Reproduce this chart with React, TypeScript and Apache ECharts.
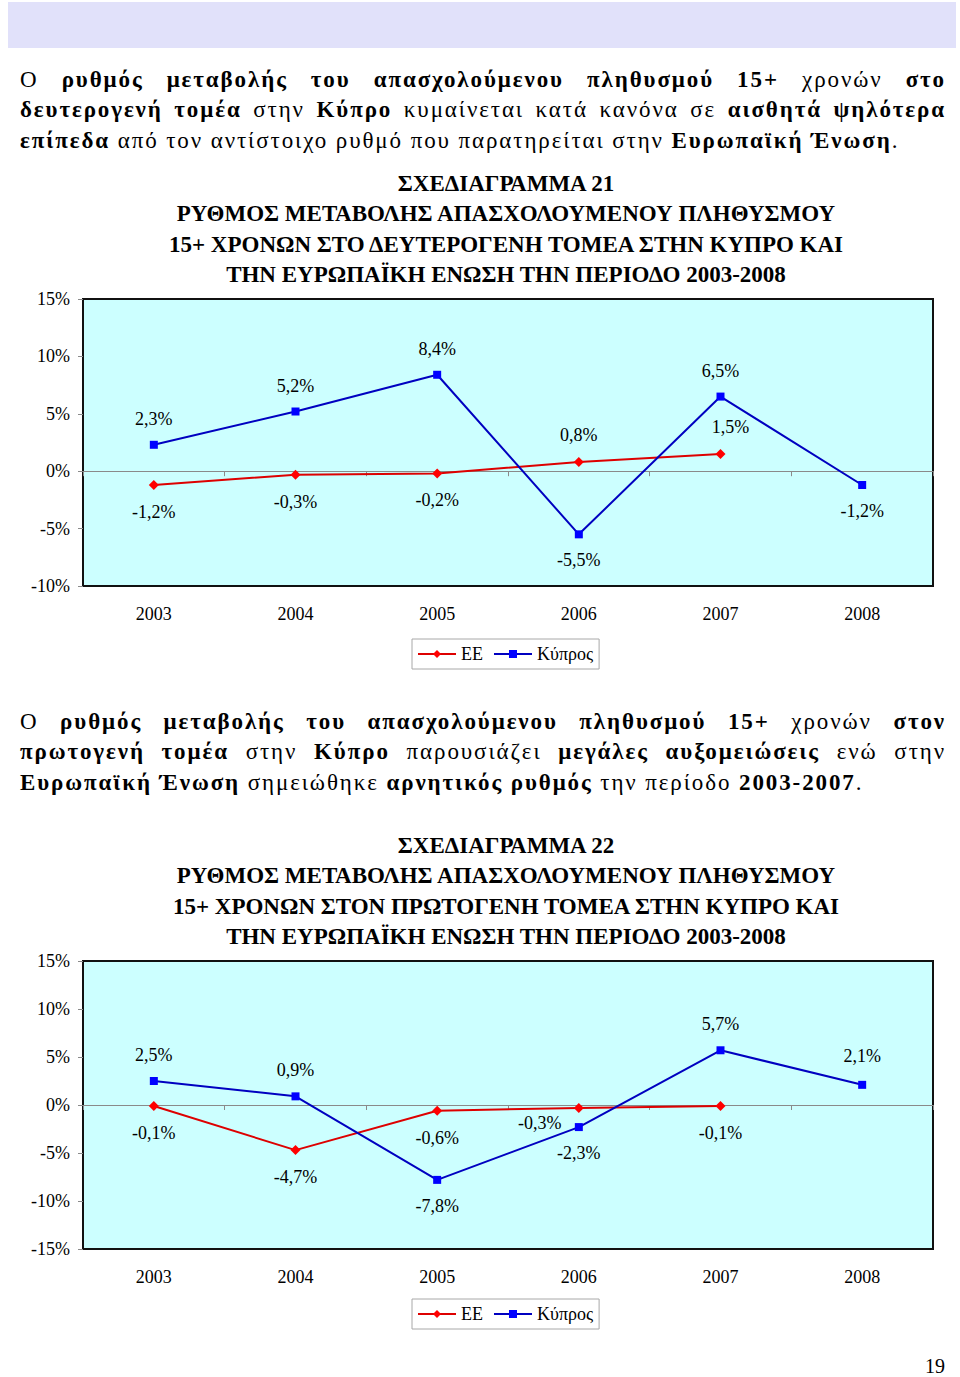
import React, { useEffect, useRef } from "react";
import * as echarts from "echarts";

// ---------- DATA ----------
const years = ["2003", "2004", "2005", "2006", "2007", "2008"];

// Chart 21 – secondary sector
const ee21 = [-1.2, -0.3, -0.2, 0.8, 1.5];
const cy21 = [2.3, 5.2, 8.4, -5.5, 6.5, -1.2];

// Chart 22 – primary sector
const ee22 = [-0.1, -4.7, -0.6, -0.3, -0.1];
const cy22 = [2.5, 0.9, -7.8, -2.3, 5.7, 2.1];

const seriesNames = ["EE", "Κύπρος"];

const title21 = [
  "ΣΧΕΔΙΑΓΡΑΜΜΑ 21",
  "ΡΥΘΜΟΣ ΜΕΤΑΒΟΛΗΣ ΑΠΑΣΧΟΛΟΥΜΕΝΟΥ ΠΛΗΘΥΣΜΟΥ",
  "15+ ΧΡΟΝΩΝ ΣΤΟ ΔΕΥΤΕΡΟΓΕΝΗ ΤΟΜΕΑ ΣΤΗΝ ΚΥΠΡΟ ΚΑΙ",
  "ΤΗΝ ΕΥΡΩΠΑΪΚΗ ΕΝΩΣΗ ΤΗΝ ΠΕΡΙΟΔΟ 2003-2008",
];
const title22 = [
  "ΣΧΕΔΙΑΓΡΑΜΜΑ 22",
  "ΡΥΘΜΟΣ ΜΕΤΑΒΟΛΗΣ ΑΠΑΣΧΟΛΟΥΜΕΝΟΥ ΠΛΗΘΥΣΜΟΥ",
  "15+ ΧΡΟΝΩΝ ΣΤΟΝ ΠΡΩΤΟΓΕΝΗ ΤΟΜΕΑ ΣΤΗΝ ΚΥΠΡΟ ΚΑΙ",
  "ΤΗΝ ΕΥΡΩΠΑΪΚΗ ΕΝΩΣΗ ΤΗΝ ΠΕΡΙΟΔΟ 2003-2008",
];

type Seg = [string, boolean];
const para1: Seg[][] = [
  [["Ο ", false], ["ρυθμός μεταβολής του απασχολούμενου πληθυσμού 15+", true], [" χρονών ", false], ["στο", true]],
  [["δευτερογενή τομέα", true], [" στην ", false], ["Κύπρο", true], [" κυμαίνεται κατά κανόνα σε ", false], ["αισθητά ψηλότερα", true]],
  [["επίπεδα", true], [" από τον αντίστοιχο ρυθμό που παρατηρείται στην ", false], ["Ευρωπαϊκή Ένωση", true], [".", false]],
];
const para2: Seg[][] = [
  [["Ο ", false], ["ρυθμός μεταβολής του απασχολούμενου πληθυσμού 15+", true], [" χρονών ", false], ["στον", true]],
  [["πρωτογενή τομέα", true], [" στην ", false], ["Κύπρο", true], [" παρουσιάζει ", false], ["μεγάλες αυξομειώσεις", true], [" ενώ στην", false]],
  [["Ευρωπαϊκή Ένωση", true], [" σημειώθηκε ", false], ["αρνητικός ρυθμός", true], [" την περίοδο ", false], ["2003-2007", true], [".", false]],
];

// ---------- STYLE (label placement per point) ----------
const eeLab21 = ["bottom", "bottom", "bottom", "top", "top"];
const eeOff21 = [[0, 0], [0, 0], [0, 0], [0, 0], [10, 0]];
const cyLab21 = ["top", "top", "top", "bottom", "top", "bottom"];
const eeLab22 = ["bottom", "bottom", "bottom", "bottom", "bottom"];
const eeDist22 = [13, 13, 13, 1, 13];
const eeOff22 = [[0, 0], [0, 0], [0, 0], [-39, 0], [0, 0]];
const cyLab22 = ["top", "top", "bottom", "bottom", "top", "top"];
const cyDist22 = [13, 13, 13, 13, 13, 16];

const FONT = "'Liberation Serif', 'Times New Roman', serif";
const RED_LINE = "#dd0000";
const RED_MARK = "#ff0000";
const BLUE_LINE = "#0000c0";
const BLUE_MARK = "#0000ff";

const fmt = (v: number) => v.toFixed(1).replace(".", ",") + "%";

function buildData(vals: number[], pos: string[], dist?: number[], off?: number[][]) {
  return vals.map((v, i) => ({
    value: v,
    label: {
      position: pos[i],
      distance: dist ? dist[i] : 13,
      offset: off ? off[i] : [0, 0],
    },
  }));
}

const Para: React.FC<{ lines: Seg[][]; top: number }> = ({ lines, top }) => (
  <div
    style={{
      position: "absolute",
      left: 20,
      top,
      width: 926,
      fontFamily: FONT,
      fontSize: 23,
      letterSpacing: "1.9px",
      lineHeight: "30.5px",
      color: "#000",
    }}
  >
    {lines.map((ln, i) => (
      <div
        key={i}
        style={{
          textAlign: i === lines.length - 1 ? "left" : "justify",
          textAlignLast: i === lines.length - 1 ? "left" : "justify",
          height: 30.5,
          whiteSpace: "nowrap",
        }}
      >
        {ln.map(([t, b], j) => (
          <span key={j} style={{ fontWeight: b ? "bold" : "normal" }}>
            {t}
          </span>
        ))}
      </div>
    ))}
  </div>
);

export default function App() {
  const ref = useRef<HTMLDivElement>(null);

  useEffect(() => {
    if (!ref.current) return;
    const chart = echarts.init(ref.current, undefined, { renderer: "svg" });

    const gridBase = {
      left: 83,
      width: 850,
      show: true,
      backgroundColor: "#ccffff",
      borderColor: "#111",
      borderWidth: 2,
      containLabel: false,
    };

    const zeroAxis = (gi: number) => ({
      type: "category",
      gridIndex: gi,
      data: years,
      position: "bottom",
      boundaryGap: true,
      axisLine: { show: true, onZero: true, lineStyle: { color: "#8a8a8a", width: 1 } },
      axisTick: { show: true, interval: 0, length: 5, lineStyle: { color: "#8a8a8a" } },
      axisLabel: { show: false },
      splitLine: { show: false },
    });
    const labelAxis = (gi: number) => ({
      type: "category",
      gridIndex: gi,
      data: years,
      position: "bottom",
      boundaryGap: true,
      axisLine: { show: false, onZero: false },
      axisTick: { show: false },
      axisLabel: { show: true, margin: 19, fontSize: 18, fontFamily: FONT, color: "#000" },
      splitLine: { show: false },
    });
    const yAx = (gi: number, min: number, max: number) => ({
      type: "value",
      gridIndex: gi,
      min,
      max,
      interval: 5,
      axisLine: { show: false },
      axisTick: { show: true, length: 5, lineStyle: { color: "#8a8a8a" } },
      splitLine: { show: false },
      axisLabel: {
        margin: 13,
        fontSize: 18,
        fontFamily: FONT,
        color: "#000",
        formatter: (v: number) => `${v}%`,
      },
    });

    const labelStyle = {
      show: true,
      fontSize: 18,
      fontFamily: FONT,
      color: "#000",
      formatter: (p: any) => fmt(p.value),
    };

    const eeSeries = (xi: number, yi: number, data: any[]) => ({
      name: seriesNames[0],
      type: "line",
      xAxisIndex: xi,
      yAxisIndex: yi,
      data,
      symbol: "diamond",
      symbolSize: 10,
      lineStyle: { color: RED_LINE, width: 2 },
      itemStyle: { color: RED_MARK },
      label: labelStyle,
    });
    const cySeries = (xi: number, yi: number, data: any[]) => ({
      name: seriesNames[1],
      type: "line",
      xAxisIndex: xi,
      yAxisIndex: yi,
      data,
      symbol: "rect",
      symbolSize: 8,
      lineStyle: { color: BLUE_LINE, width: 2 },
      itemStyle: { color: BLUE_MARK },
      label: labelStyle,
    });

    const legendBase = {
      data: seriesNames,
      orient: "horizontal",
      left: 412,
      borderColor: "#a8a8a8",
      borderWidth: 1,
      backgroundColor: "#fff",
      padding: [6, 6, 6, 5],
      itemWidth: 38,
      itemHeight: 10,
      itemGap: 10,
      textStyle: { fontSize: 18, fontFamily: FONT, color: "#000" },
      selectedMode: false,
    };

    const titleTexts = (lines: string[], ys: number[]) =>
      lines.map((t, i) => ({
        type: "text",
        x: 506,
        y: ys[i],
        style: {
          text: t,
          fill: "#000",
          font: `bold 23px ${FONT}`,
          textAlign: "center",
          textVerticalAlign: "middle",
        },
      }));

    chart.setOption({
      animation: false,
      grid: [
        { ...gridBase, top: 299, height: 287 },
        { ...gridBase, top: 961, height: 288 },
      ],
      xAxis: [zeroAxis(0), labelAxis(0), zeroAxis(1), labelAxis(1)],
      yAxis: [yAx(0, -10, 15), yAx(1, -15, 15)],
      legend: [
        { ...legendBase, top: 639 },
        { ...legendBase, top: 1299 },
      ],
      series: [
        eeSeries(0, 0, buildData(ee21, eeLab21, undefined, eeOff21)),
        cySeries(0, 0, buildData(cy21, cyLab21)),
        eeSeries(2, 1, buildData(ee22, eeLab22, eeDist22, eeOff22)),
        cySeries(2, 1, buildData(cy22, cyLab22, cyDist22)),
      ],
      graphic: [
        {
          type: "rect",
          shape: { x: 8, y: 2, width: 948, height: 46 },
          style: { fill: "#e1e1fa" },
          silent: true,
        },
        ...titleTexts(title21, [183, 213, 244, 274]),
        ...titleTexts(title22, [845, 875, 906, 936]),
        {
          type: "text",
          x: 935,
          y: 1366,
          style: {
            text: "19",
            fill: "#000",
            font: `20px ${FONT}`,
            textAlign: "center",
            textVerticalAlign: "middle",
          },
        },
      ],
    });

    return () => chart.dispose();
  }, []);

  return (
    <div style={{ position: "absolute", left: 0, top: 0, width: 960, height: 1377, background: "#fff" }}>
      <div ref={ref} style={{ position: "absolute", left: 0, top: 0, width: 960, height: 1377 }} />
      <Para lines={para1} top={64.75} />
      <Para lines={para2} top={706.75} />
    </div>
  );
}
